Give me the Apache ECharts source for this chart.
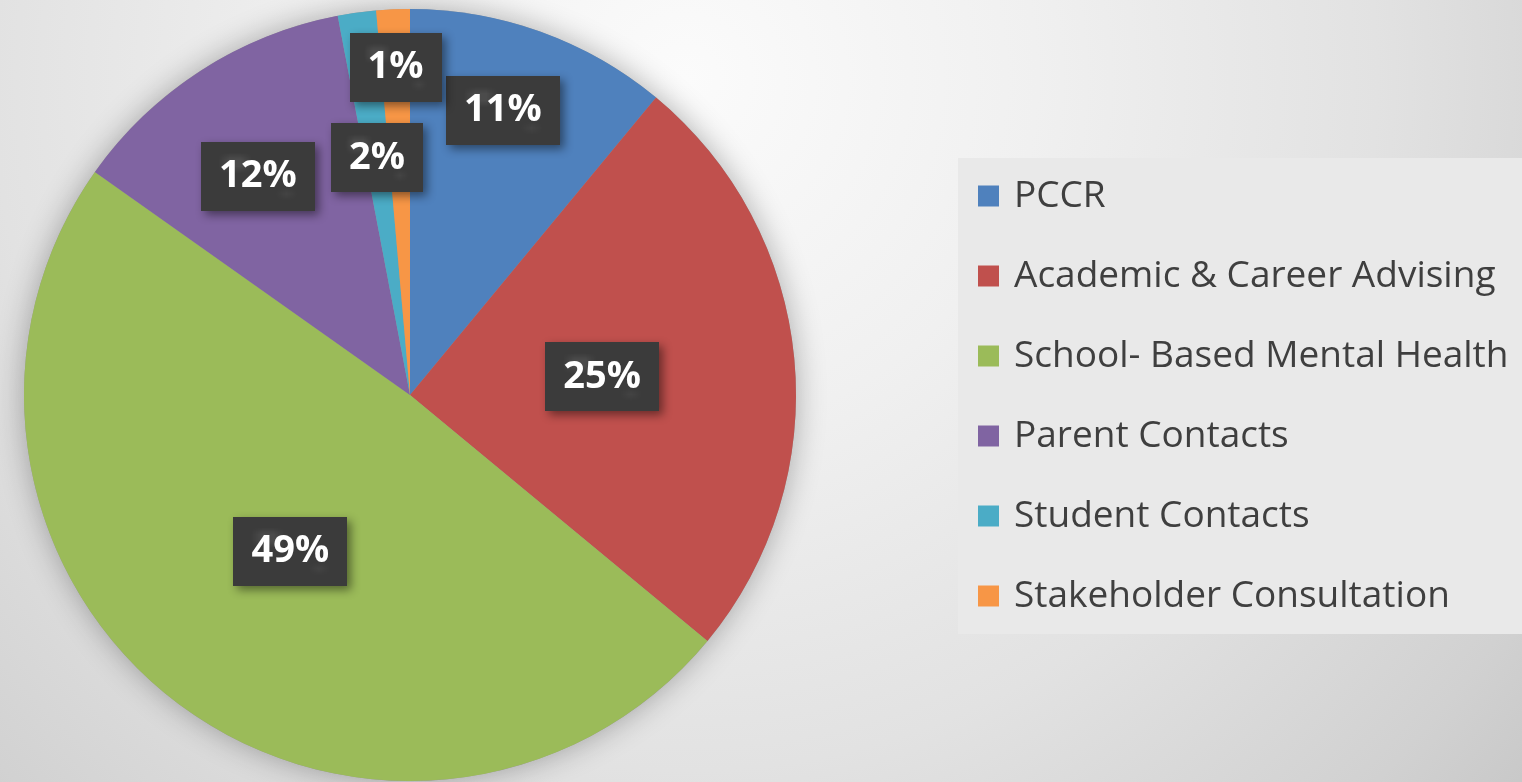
<!DOCTYPE html>
<html>
<head>
<meta charset="utf-8">
<script src="https://cdn.jsdelivr.net/npm/echarts@6/dist/echarts.min.js"></script>
<style>
html,body{margin:0;padding:0;}
#chart{width:1522px;height:782px;}
</style>
</head>
<body>
<div id="chart"></div>
<script>
// categories and shares (percent)
var categories = ['PCCR', 'Academic & Career Advising', 'School- Based Mental Health', 'Parent Contacts', 'Student Contacts', 'Stakeholder Consultation'];
var shares = [11.0, 25.0, 48.8, 12.2, 1.6, 1.4];
var sliceColors = ['#4F81BD', '#C0504D', '#9BBB59', '#8064A2', '#4BACC6', '#F79646'];

// label placement: distance from centre (fraction of radius) and angle shift in degrees
var labelFrac = [0.775, 0.5, 0.51, 0.69, 0.62, 0.85];
var labelShift = [-1.7, 0, 0, -2.1, 0, 0];

var CX = 410, CY = 395, R = 386;

// small dotted texture for the label boxes
function makePattern(){
	var c = document.createElement('canvas');
	c.width = 10; c.height = 10;
	var g = c.getContext('2d');
	g.fillStyle = '#3b3b3b';
	g.fillRect(0,0,10,10);
	g.fillStyle = '#4b4b4b';
	g.fillRect(2,2,2,2);
	g.fillStyle = '#444444';
	g.fillRect(7,7,1,1);
	return c;
}

var total = 0;
for (var i = 0; i < shares.length; i++) total += shares[i];
var midAngles = [], acc = 0;
for (i = 0; i < shares.length; i++) {
	var a = shares[i] / total * 360;
	midAngles[i] = acc + a / 2;   // clockwise from top
	acc += a;
}

var pieData = [];
for (i = 0; i < categories.length; i++) {
	pieData.push({name: categories[i], value: shares[i], itemStyle: {color: sliceColors[i]}});
}

var myChart = echarts.init(document.getElementById('chart'));
var option = {
	backgroundColor: {
		type: 'radial', x: 0.45, y: 0.1, r: 1.5,
		colorStops: [
			{offset: 0, color: '#fbfbfb'},
			{offset: 0.3, color: '#f0f0f0'},
			{offset: 0.59, color: '#e2e2e2'},
			{offset: 0.72, color: '#d9d9d9'},
			{offset: 0.84, color: '#d1d1d1'},
			{offset: 0.93, color: '#c9c9c9'},
			{offset: 1, color: '#c4c4c4'}
		]
	},
	legend: {
		orient: 'vertical',
		left: 958,
		top: 158,
		data: categories,
		backgroundColor: '#e9e9e9',
		padding: [18, 80, 18, 20],
		itemGap: 40,
		itemWidth: 21,
		itemHeight: 21,
		icon: 'rect',
		selectedMode: false,
		textStyle: {
			fontFamily: 'Open Sans',
			fontSize: 37,
			lineHeight: 40,
			color: '#3f3f3f',
			padding: [0, 0, 0, 10]
		}
	},
	series: [
		{   // soft shadow behind the whole pie
			type: 'pie',
			silent: true,
			center: [CX, CY],
			radius: R,
			z: 1,
			label: {show: false},
			labelLine: {show: false},
			data: [{name: 'bg', value: 1, itemStyle: {color: '#999', shadowBlur: 30, shadowColor: 'rgba(0,0,0,0.3)'}}]
		},
		{
			type: 'pie',
			center: [CX, CY],
			radius: R,
			startAngle: 90,
			clockwise: true,
			z: 2,
			avoidLabelOverlap: false,
			itemStyle: {borderWidth: 0},
			label: {
				show: true,
				position: 'inside',
				formatter: function(p){ return Math.round(p.value) + '%'; },
				color: '#ffffff',
				fontFamily: 'Open Sans',
				fontWeight: 'bold',
				fontSize: 38,
				backgroundColor: {image: makePattern(), repeat: 'repeat'},
				padding: [16, 18, 15, 18],
				shadowBlur: 10,
				shadowOffsetX: 4,
				shadowOffsetY: 4,
				shadowColor: 'rgba(0,0,0,0.45)'
			},
			labelLayout: function(p){
				var k = p.dataIndex;
				var ang = (midAngles[k] + labelShift[k]) * Math.PI / 180;
				var d = labelFrac[k] * R;
				return {
					x: CX + d * Math.sin(ang),
					y: CY - d * Math.cos(ang),
					align: 'center',
					verticalAlign: 'middle'
				};
			},
			labelLine: {show: false},
			data: pieData
		}
	]
};
myChart.setOption(option);
</script>
</body>
</html>
